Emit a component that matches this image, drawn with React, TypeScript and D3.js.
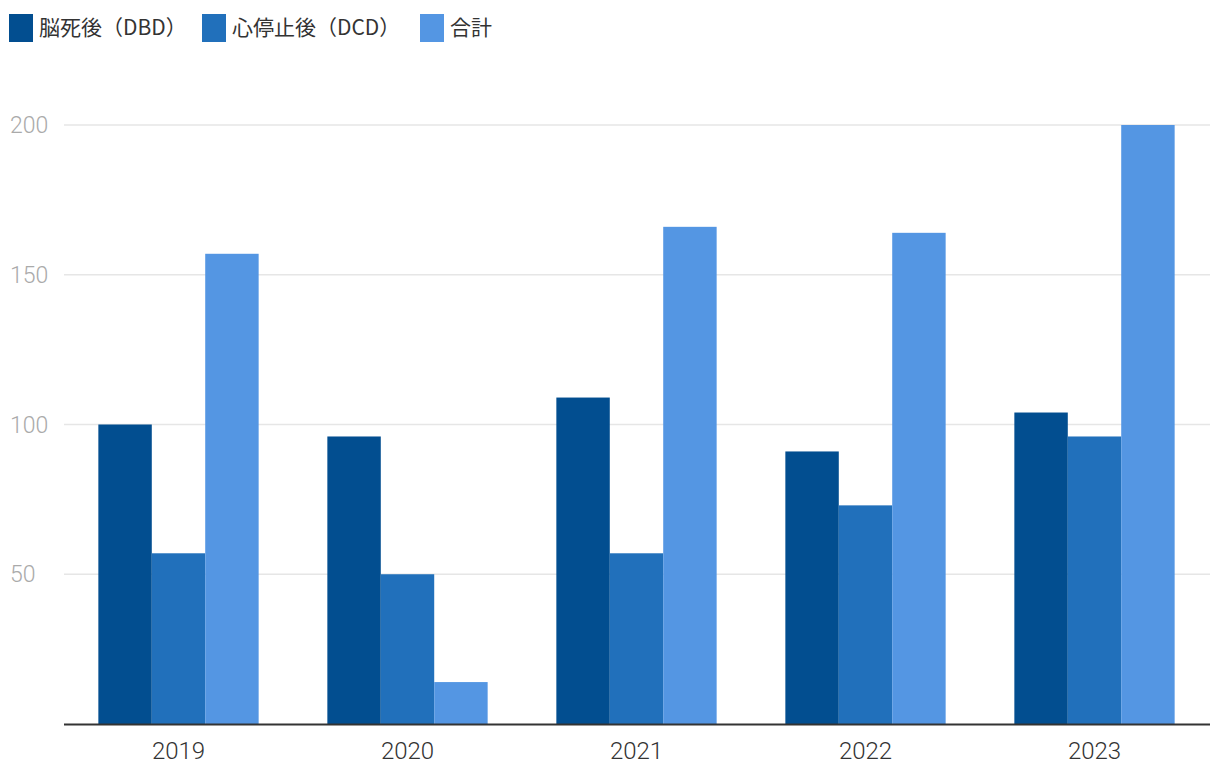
import React from "react";
import * as d3 from "d3";

const years = ["2019", "2020", "2021", "2022", "2023"];
const seriesNames = ["脳死後（DBD）", "心停止後（DCD）", "合計"];
const dbd = [100, 96, 109, 91, 104];
const dcd = [57, 50, 57, 73, 96];
const total = [157, 14, 166, 164, 200];
const yTicks = [50, 100, 150, 200];
const colors = ["#024e90", "#2170bb", "#5496e3"];

const W = 1220;
const H = 782;
const left = 64;
const right = 1209;
const top = 125;
const bottom = 724;

export default function App() {
  const series = [dbd, dcd, total];
  const x0 = d3.scaleBand<string>().domain(years).range([left, right]).paddingInner(0.3).paddingOuter(0.15);
  const x1 = d3.scaleBand<number>().domain([0, 1, 2]).range([0, x0.bandwidth()]);
  const y = d3.scaleLinear().domain([0, 200]).range([bottom, top]);
  const cjk = "'Noto Sans CJK JP', 'Noto Sans', sans-serif";
  const num = "Roboto, 'Noto Sans', sans-serif";
  const legendX = [9, 202, 420];
  return (
    <svg width={W} height={H} style={{ position: "absolute", left: 0, top: 0, background: "#fff" }}>
      {yTicks.map((t) => (
        <g key={t}>
          <line x1={left} x2={1210} y1={y(t)} y2={y(t)} stroke="#e6e6e6" strokeWidth={1.5} />
          <text x={10} y={y(t) + 8} fontSize={23} fill="#aaaaaa" fontFamily={num} fontWeight={300}>
            {t}
          </text>
        </g>
      ))}
      {years.map((yr, i) => (
        <g key={yr}>
          {series.map((s, j) => (
            <rect
              key={j}
              x={(x0(yr) as number) + (x1(j) as number)}
              y={y(s[i])}
              width={x1.bandwidth()}
              height={bottom - y(s[i])}
              fill={colors[j]}
            />
          ))}
          <text
            x={(x0(yr) as number) + x0.bandwidth() / 2}
            y={759}
            textAnchor="middle"
            fontSize={24}
            fill="#333"
            fontFamily={num}
            fontWeight={300}
          >
            {yr}
          </text>
        </g>
      ))}
      <line x1={left} x2={1210} y1={bottom + 0.5} y2={bottom + 0.5} stroke="#333" strokeWidth={2} />
      {seriesNames.map((n, j) => (
        <g key={n}>
          <rect x={legendX[j]} y={14} width={24} height={28} fill={colors[j]} />
          <text x={legendX[j] + 30} y={28} dy="0.35em" fontSize={21} fill="#333" fontFamily={cjk} fontWeight={400}>
            {n}
          </text>
        </g>
      ))}
    </svg>
  );
}
